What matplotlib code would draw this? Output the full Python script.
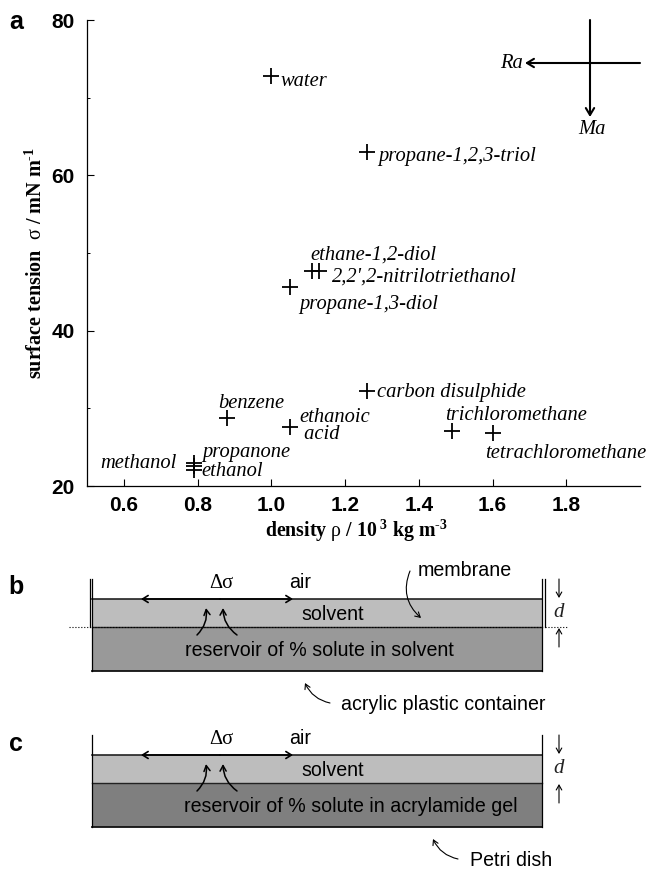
import matplotlib
matplotlib.use('Agg')
import matplotlib.pyplot as plt
from matplotlib.patches import Rectangle

W, H = 647, 869

plt.rcParams['mathtext.fontset'] = 'custom'
plt.rcParams['mathtext.rm'] = 'Liberation Serif:bold'
plt.rcParams['mathtext.it'] = 'Liberation Serif'
plt.rcParams['mathtext.bf'] = 'Liberation Serif:bold'

# density (10^3 kg/m3) and surface tension (mN/m)
names = ['water', 'propane-1,2,3-triol', 'ethane-1,2-diol', "2,2',2-nitrilotriethanol",
         'propane-1,3-diol', 'carbon disulphide', 'benzene', 'ethanoic acid',
         'trichloromethane', 'tetrachloromethane', 'propanone', 'methanol', 'ethanol']
density = [1.00, 1.26, 1.11, 1.13, 1.05, 1.26, 0.88, 1.05, 1.49, 1.60, 0.79, 0.79, 0.79]
tension = [72.8, 63.0, 47.7, 47.7, 45.6, 32.2, 28.7, 27.6, 27.1, 26.8, 23.0, 22.6, 22.1]

x_ticks = [0.6, 0.8, 1.0, 1.2, 1.4, 1.6, 1.8]
y_ticks = [20, 40, 60, 80]
y_minor = [30, 50, 70]

# label anchors in pixels: text, left x, centre y
labels = [('water', 281, 81), ('propane-1,2,3-triol', 378, 157), ('ethane-1,2-diol', 310, 255),
          ("2,2',2-nitrilotriethanol", 332, 277), ('propane-1,3-diol', 299, 304),
          ('carbon disulphide', 377, 393), ('benzene', 218, 403), ('ethanoic\n acid', 299, 426),
          ('trichloromethane', 445, 416), ('tetrachloromethane', 485, 454),
          ('propanone', 202, 452), ('methanol', 100, 464), ('ethanol', 201, 472)]

fig = plt.figure(figsize=(W / 100, H / 100), dpi=100)

ax = fig.add_axes((87 / W, 1 - 486 / H, 553 / W, 466 / H))
ax.plot(density, tension, '+', color='k', ms=11, mew=1.3, clip_on=False)
ax.set_xlim(0.5, 2.0)
ax.set_ylim(20, 80)
ax.spines['top'].set_visible(False)
ax.spines['right'].set_visible(False)
for s in ['left', 'bottom']:
    ax.spines[s].set_linewidth(0.9)
ax.set_xticks(x_ticks)
ax.set_yticks(y_ticks)
ax.set_yticks(y_minor, minor=True)
ax.tick_params(axis='x', which='major', direction='in', length=5.3, width=0.8, pad=7)
ax.tick_params(axis='y', which='major', direction='in', length=5.3, width=0.8, pad=9)
ax.tick_params(axis='y', which='minor', direction='in', length=2.5, width=0.7)
ax.set_xticklabels(['%.1f' % v for v in x_ticks], family='Liberation Sans', weight='bold', fontsize=15)
ax.set_yticklabels([str(v) for v in y_ticks], family='Liberation Sans', weight='bold', fontsize=15)

# overlay in pixel coordinates for labels and the two cell sketches
ov = fig.add_axes((0, 0, 1, 1), facecolor='none')
ov.set_xlim(0, W)
ov.set_ylim(H, 0)
ov.axis('off')

for t, x, y in labels:
    ov.text(x, y, t, family='Liberation Serif', style='italic', fontsize=14.8, ha='left', va='center',
            linespacing=0.85)

ov.text(36, 263, 'surface tension  $\\sigma$ / mN m$^{\\text{-}1}$', family='Liberation Serif', weight='bold',
        fontsize=14.5, rotation=90, ha='center', va='center')
ov.text(356, 531, 'density $\\rho$ / 10$^{\\ 3}$ kg m$^{\\text{-}3}$', family='Liberation Serif', weight='bold',
        fontsize=14.3, ha='center', va='center')


def arrow(x0, y0, x1, y1, rad=0.0, style='->,head_length=0.35,head_width=0.2', lw=0.8):
    ov.annotate('', xy=(x1, y1), xytext=(x0, y0),
                arrowprops=dict(arrowstyle=style, color='k', lw=lw, shrinkA=0, shrinkB=0,
                                connectionstyle='arc3,rad=%g' % rad))


# Ra / Ma cross
arrow(640, 63, 525, 63, style='->,head_length=0.5,head_width=0.3', lw=1.5)
arrow(590, 20, 590, 117, style='->,head_length=0.5,head_width=0.3', lw=1.5)
ov.text(523, 63, 'Ra', family='Liberation Serif', style='italic', fontsize=14.8, ha='right', va='center')
ov.text(592, 129, 'Ma', family='Liberation Serif', style='italic', fontsize=14.8, ha='center', va='center')

ov.text(16, 22, 'a', family='Liberation Sans', weight='bold', fontsize=18, ha='center', va='center')

left, right = 92, 542
panels = [
    ('b', 587, 579, 599, 627, 671, '#999999', 'reservoir of % solute in solvent', 319),
    ('c', 744, 735, 755, 783, 827, '#7f7f7f', 'reservoir of % solute in acrylamide gel', 351),
]
for letter, ly, wall, top, mid, bot, col, res, res_x in panels:
    ov.text(16, ly, letter, family='Liberation Sans', weight='bold', fontsize=18, ha='center', va='center')
    ov.add_patch(Rectangle((left, top), right - left, mid - top, fc='#bdbdbd', ec='none'))
    ov.add_patch(Rectangle((left, mid), right - left, bot - mid, fc=col, ec='none'))
    ov.plot([left, right], [top, top], color='#222222', lw=1.2)
    ov.plot([left, right], [mid, mid], color='#222222', lw=1.0)
    ov.plot([left, right], [bot, bot], color='#111111', lw=1.3)
    ov.plot([left, left], [wall, bot], color='k', lw=0.9)
    ov.plot([right, right], [wall, bot], color='k', lw=0.9)
    # surface flow and upward flow arrows
    arrow(220, top, 141, top, style='->,head_length=0.4,head_width=0.25', lw=1.2)
    arrow(220, top, 293, top, style='->,head_length=0.4,head_width=0.25', lw=1.2)
    arrow(197, mid + 8, 206, mid - 19, rad=0.25, style='->,head_length=0.4,head_width=0.22', lw=1.1)
    arrow(237, mid + 8, 223, mid - 19, rad=-0.25, style='->,head_length=0.4,head_width=0.22', lw=1.1)
    # depth marker
    arrow(559, wall, 559, top - 1)
    arrow(559, mid + 20, 559, mid + 1)
    ov.text(559, (top + mid) / 2 - 0.5, 'd', family='Liberation Serif', style='italic', fontsize=15,
            ha='center', va='center', color='#222222')
    # text
    ov.text(221, wall + 5, 'Δσ', family='Liberation Serif', fontsize=14.8, ha='center', va='center')
    ov.text(300, wall + 4, 'air', family='Liberation Sans', fontsize=14.1, ha='center', va='center')
    ov.text(333, (top + mid) / 2 + 1.5, 'solvent', family='Liberation Sans', fontsize=14.1, ha='center', va='center')
    ov.text(res_x, mid + 23.5, res, family='Liberation Sans', fontsize=14.1, ha='center', va='center')

# extras for panel b: double walls, dotted membrane line, membrane label
ov.plot([90, 90], [579, 627], color='k', lw=0.9)
ov.plot([545, 545], [579, 627], color='k', lw=0.9)
ov.plot([69, 90], [627, 627], color='k', lw=0.8, ls=':')
ov.plot([545, 568], [627, 627], color='k', lw=0.8, ls=':')
ov.plot([left, right], [627, 627], color='k', lw=0.8, ls=':')

arrow(410, 571, 421, 618, rad=0.35)
ov.text(465, 570.5, 'membrane', family='Liberation Sans', fontsize=14.1, ha='center', va='center')
arrow(330, 703, 305, 683, rad=-0.25)
ov.text(443, 705, 'acrylic plastic container', family='Liberation Sans', fontsize=14.1, ha='center', va='center')
arrow(458, 859, 433, 839, rad=-0.25)
ov.text(511, 860, 'Petri dish', family='Liberation Sans', fontsize=14.1, ha='center', va='center')

fig.savefig('out.png', dpi=100)
